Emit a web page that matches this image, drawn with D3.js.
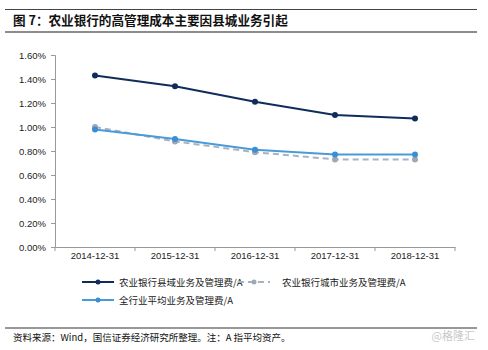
<!DOCTYPE html>
<html>
<head>
<meta charset="utf-8">
<script src="https://cdn.jsdelivr.net/npm/d3@7"></script>
<style>
  body { margin: 0; background: #fff; }
  svg { display: block; }
</style>
</head>
<body>
<svg id="chart" width="488" height="350"></svg>
<script>
// Report periods on the x axis
const categories = ["2014-12-31", "2015-12-31", "2016-12-31", "2017-12-31", "2018-12-31"];
// Operating & admin expense over average assets (%)
const countyValues = [1.43, 1.34, 1.21, 1.10, 1.07];
const cityValues = [1.00, 0.88, 0.79, 0.73, 0.73];
const industryValues = [0.98, 0.90, 0.81, 0.77, 0.77];
const yTicks = [0, 0.2, 0.4, 0.6, 0.8, 1.0, 1.2, 1.4, 1.6];
const seriesNames = ["农业银行县域业务及管理费/A", "农业银行城市业务及管理费/A", "全行业平均业务及管理费/A"];

const svg = d3.select("#chart");
const font = "Arial, 'Liberation Sans', 'Noto Sans CJK SC', sans-serif";
const cjk = "'Noto Sans CJK SC', sans-serif";

// Header bar
svg.append("line").attr("x1", 5).attr("x2", 477).attr("y1", 9.5).attr("y2", 9.5)
  .attr("stroke", "#444").attr("stroke-width", 1);
svg.append("line").attr("x1", 5).attr("x2", 477).attr("y1", 32).attr("y2", 32)
  .attr("stroke", "#8c8c8c").attr("stroke-width", 2);
svg.append("text").attr("x", 13).attr("y", 25)
  .attr("font-family", cjk).attr("font-size", 12.6).attr("font-weight", "bold")
  .attr("fill", "#111").text("图 7：农业银行的高管理成本主要因县城业务引起");

// Plot area
const plotLeft = 55, plotRight = 455, plotTop = 55, plotBottom = 247;
const x = d3.scaleBand().domain(categories).range([plotLeft, plotRight]);
const y = d3.scaleLinear().domain([0, 1.6]).range([plotBottom, plotTop]);

const yAxis = svg.append("g").attr("transform", `translate(${plotLeft},0)`)
  .call(d3.axisLeft(y).tickValues(yTicks).tickSize(4).tickFormat(d => d.toFixed(2) + "%"));
yAxis.select(".domain").attr("stroke", "#999");
yAxis.selectAll(".tick line").attr("stroke", "#999");
yAxis.selectAll("text").attr("font-family", font).attr("font-size", 9.5).attr("fill", "#222").attr("dx", -2);

const xAxis = svg.append("g").attr("transform", `translate(0,${plotBottom})`)
  .call(d3.axisBottom(x).tickSizeOuter(0).tickSize(0));
xAxis.select(".domain").attr("stroke", "#999");
xAxis.selectAll("text").attr("font-family", font).attr("font-size", 9.5).attr("fill", "#222").attr("dy", 9);
// Category boundary ticks
svg.append("g").selectAll("line")
  .data(d3.range(categories.length + 1))
  .join("line")
  .attr("x1", i => plotLeft + i * x.step()).attr("x2", i => plotLeft + i * x.step())
  .attr("y1", plotBottom).attr("y2", plotBottom + 4)
  .attr("stroke", "#999");

const series = [
  { name: seriesNames[0], values: countyValues, color: "#0f2d5a", dash: null, dot: "#0f2d5a" },
  { name: seriesNames[1], values: cityValues, color: "#a8b3c2", dash: "6,4", dot: "#a0a8b4" },
  { name: seriesNames[2], values: industryValues, color: "#4a9ad8", dash: null, dot: "#3a8fd4" }
];

const line = d3.line().x((d, i) => x(categories[i]) + x.bandwidth() / 2).y(d => y(d));

// Draw the dashed series first so the solid lines sit on top
[series[1], series[2], series[0]].forEach(s => {
  svg.append("path").datum(s.values)
    .attr("d", line).attr("fill", "none")
    .attr("stroke", s.color).attr("stroke-width", 2)
    .attr("stroke-dasharray", s.dash);
  svg.append("g").selectAll("circle").data(s.values).join("circle")
    .attr("cx", (d, i) => x(categories[i]) + x.bandwidth() / 2)
    .attr("cy", d => y(d)).attr("r", 3).attr("fill", s.dot);
});

// Legend
const legendItems = [
  { s: series[0], lx: 82, ly: 282 },
  { s: series[1], lx: 238, ly: 282 },
  { s: series[2], lx: 82, ly: 300 }
];
legendItems.forEach(({ s, lx, ly }) => {
  const g = svg.append("g");
  g.append("line").attr("x1", lx).attr("x2", lx + 32).attr("y1", ly).attr("y2", ly)
    .attr("stroke", s.color).attr("stroke-width", 2).attr("stroke-dasharray", s.dash);
  g.append("circle").attr("cx", lx + 16).attr("cy", ly).attr("r", 2.5).attr("fill", s.dot);
  g.append("text").attr("x", lx + (s.dash ? 44 : 37)).attr("y", ly + 3.5)
    .attr("font-family", cjk).attr("font-size", 9.5).attr("fill", "#222").text(s.name);
});

// Footer
svg.append("line").attr("x1", 5).attr("x2", 477).attr("y1", 328).attr("y2", 328)
  .attr("stroke", "#333").attr("stroke-width", 1);
svg.append("text").attr("x", 13).attr("y", 341)
  .attr("font-family", cjk).attr("font-size", 9.5).attr("fill", "#111")
  .text("资料来源：Wind，国信证券经济研究所整理。注：A 指平均资产。");
svg.append("text").attr("x", 475).attr("y", 340).attr("text-anchor", "end")
  .attr("font-family", cjk).attr("font-size", 11).attr("fill", "#c8c8c8")
  .text("@格隆汇");
</script>
</body>
</html>
